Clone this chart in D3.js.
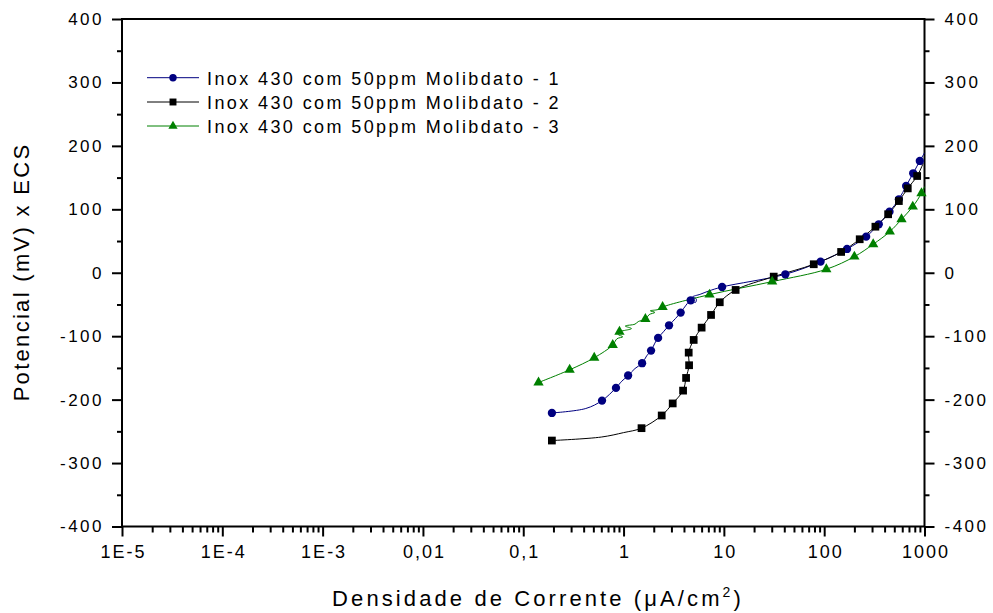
<!DOCTYPE html>
<html><head><meta charset="utf-8">
<script src="https://cdn.jsdelivr.net/npm/d3@7"></script>
<style>
html,body{margin:0;padding:0;background:#fff;}
svg{display:block;font-family:"Liberation Sans",Arial,sans-serif;}
</style></head>
<body>
<svg id="chart" width="993" height="613"></svg>
<script>
// ---- data ----
const seriesNames = [
  "Inox 430 com 50ppm Molibdato - 1",
  "Inox 430 com 50ppm Molibdato - 2",
  "Inox 430 com 50ppm Molibdato - 3"
];
const seriesColors = ["#000080", "#000000", "#008000"];
const seriesSymbols = ["circle", "square", "triangle"];
// [current density (uA/cm2), potential (mV), marker flag]
const series1 = [
  [0.193,-221,1],[0.42,-214,0],[0.61,-201.5,1],[0.84,-181.5,1],[0.96,-171,0],[1.11,-162,1],
  [1.3,-151,0],[1.53,-142.6,1],[1.7,-131,0],[1.88,-122.7,1],[2.05,-111,0],[2.21,-102.7,1],
  [2.5,-93,0],[2.84,-82.8,1],[3.3,-72,0],[3.71,-62.8,1],[4.2,-51,0],[4.67,-43.4,1],
  [5.2,-47,0],[5.3,-41,0],[4.9,-38,0],[5.8,-34,0],[7.0,-29,0],[9.6,-22.4,1],
  [41,-2.4,1],[92,17.5,1],[169,37.5,1],[262,56.9,1],[350,76.4,1],[448,96.3,1],
  [555,115.8,1],[656,136.8,1],[771,156.8,1],[898,176.2,1],[1000,189,0]
];
const series2 = [
  [0.193,-264.5,1],[0.6,-259,0],[1.0,-252,0],[1.51,-245,1],[2.4,-225,1],[3.09,-206,1],
  [3.92,-185.8,1],[4.2,-165.8,1],[4.5,-145.8,1],[4.46,-125.9,1],[5.0,-105.9,1],[6.0,-86.5,1],
  [7.45,-66.5,1],[9.1,-46.5,1],[13.1,-27.1,1],[31.4,-6.1,1],[78.7,13.4,1],[147.5,32.8,1],
  [226,52.8,1],[324,72.6,1],[434,92.2,1],[555,113,1],[681,133,1],[845,152.5,1],[970,172.5,0]
];
const series3 = [
  [0.142,-173,1],[0.29,-153,1],[0.51,-134,1],[0.78,-114,1],[0.86,-104,0],[0.98,-101,0],
  [0.88,-97,0],[0.91,-93,1],[1.02,-91,0],[1.2,-88,0],[1.04,-84,0],[1.3,-81,0],[1.4,-77,0],
  [1.65,-73,1],[1.8,-66,0],[2.05,-62.5,0],[1.85,-60,0],[2.2,-58,0],[2.45,-54,1],[7.2,-34.5,1],
  [30.3,-14,1],[105,5.5,1],[200,25.4,1],[308,44.9,1],[451,64.8,1],[590,84.3,1],[764,104.2,1],
  [933,125.3,1],[1000,135.7,0]
];
const xTickValues = [1e-5,1e-4,1e-3,0.01,0.1,1,10,100,1000];
const xTickLabels = ["1E-5","1E-4","1E-3","0,01","0,1","1","10","100","1000"];
const yTickValues = [-400,-300,-200,-100,0,100,200,300,400];
const yTickLabels = ["-400","-300","-200","-100","0","100","200","300","400"];
const xTitle = "Densidade de Corrente (\u03BCA/cm";
const yTitle = "Potencial (mV) x ECS";

// ---- layout ----
const L = 122, R = 924.5, T = 19, B = 526.5;
const svg = d3.select("#chart");
const x = d3.scaleLog().domain([1e-5, 1000]).range([L, R]);
const y = d3.scaleLinear().domain([-400, 400]).range([B, T]);

// minor ticks
const xMinor = [];
for (let e = -5; e < 3; e++) for (let k = 2; k <= 9; k++) xMinor.push(k * Math.pow(10, e));
const yMinor = d3.range(-350, 400, 100);

function styleAxis(fs, ls){
  return g => {
    g.selectAll(".domain").remove();
    g.selectAll("line").attr("stroke","#000").attr("stroke-width",2);
    g.selectAll("text").attr("font-size",fs).attr("letter-spacing",ls+"px").attr("fill","#000");
  };
}

// bottom
svg.append("g").attr("transform",`translate(0,${B})`)
  .call(d3.axisBottom(x).tickValues(xMinor).tickSize(6).tickFormat(""))
  .call(styleAxis(18,2));
const gb = svg.append("g").attr("transform",`translate(0,${B})`)
  .call(d3.axisBottom(x).tickValues(xTickValues).tickSize(10).tickPadding(9)
    .tickFormat((d,i)=>xTickLabels[i]))
  .call(styleAxis(18,2));
gb.selectAll("text").attr("dx", 1);

// left
svg.append("g").attr("transform",`translate(${L},0)`)
  .call(d3.axisLeft(y).tickValues(yMinor).tickSize(5).tickFormat(""))
  .call(styleAxis(17,2.5));
svg.append("g").attr("transform",`translate(${L},0)`)
  .call(d3.axisLeft(y).tickValues(yTickValues).tickSize(10).tickPadding(8)
    .tickFormat((d,i)=>yTickLabels[i]))
  .call(styleAxis(17,2.5));

// right
svg.append("g").attr("transform",`translate(${R},0)`)
  .call(d3.axisRight(y).tickValues(yMinor).tickSize(5).tickFormat(""))
  .call(styleAxis(17,2.5));
svg.append("g").attr("transform",`translate(${R},0)`)
  .call(d3.axisRight(y).tickValues(yTickValues).tickSize(10).tickPadding(10)
    .tickFormat((d,i)=>yTickLabels[i]))
  .call(styleAxis(17,2.5));

// frame lines
svg.append("rect").attr("x",L).attr("y",T).attr("width",R-L).attr("height",B-T)
  .attr("fill","none").attr("stroke","#000").attr("stroke-width",2);

// ---- series ----
const allSeries = [series1, series2, series3];
const line = d3.line().x(d=>x(d[0])).y(d=>y(d[1])).curve(d3.curveCatmullRom.alpha(0.5));
const sym = {circle: d3.symbolCircle, square: d3.symbolSquare, triangle: d3.symbolTriangle};
const symSize = {circle: 54, square: 60, triangle: 46};

allSeries.forEach((s,i)=>{
  svg.append("path").datum(s).attr("d",line).attr("fill","none")
    .attr("stroke",seriesColors[i]).attr("stroke-width",1);
});
allSeries.forEach((s,i)=>{
  const st = seriesSymbols[i];
  svg.append("g").selectAll("path").data(s.filter(d=>d[2]===1)).join("path")
    .attr("transform",d=>`translate(${x(d[0])},${y(d[1])})`)
    .attr("d",d3.symbol(sym[st], symSize[st]))
    .attr("fill",seriesColors[i]);
});

// ---- legend ----
const legY = [77.7, 102, 126];
seriesNames.forEach((n,i)=>{
  const g = svg.append("g").attr("transform",`translate(0,${legY[i]})`);
  g.append("line").attr("x1",147).attr("x2",199).attr("y1",0).attr("y2",0)
    .attr("stroke",seriesColors[i]).attr("stroke-width",1);
  const st = seriesSymbols[i];
  g.append("path").attr("transform","translate(173,0)")
    .attr("d",d3.symbol(sym[st], symSize[st]*0.8)).attr("fill",seriesColors[i]);
  g.append("text").attr("x",207).attr("y",7).attr("font-size",18)
    .attr("letter-spacing","2.4px").text(n);
});

// ---- titles ----
const xt = svg.append("text").attr("x",538).attr("y",606).attr("text-anchor","middle")
  .attr("font-size",22).attr("letter-spacing","3.1px");
xt.append("tspan").text(xTitle);
xt.append("tspan").attr("font-size",14).attr("dy",-9).text("2");
xt.append("tspan").attr("dy",9).text(")");

svg.append("text").attr("transform",`translate(29,272) rotate(-90)`)
  .attr("text-anchor","middle").attr("font-size",22).attr("letter-spacing","2.3px")
  .text(yTitle);
</script>
</body></html>
